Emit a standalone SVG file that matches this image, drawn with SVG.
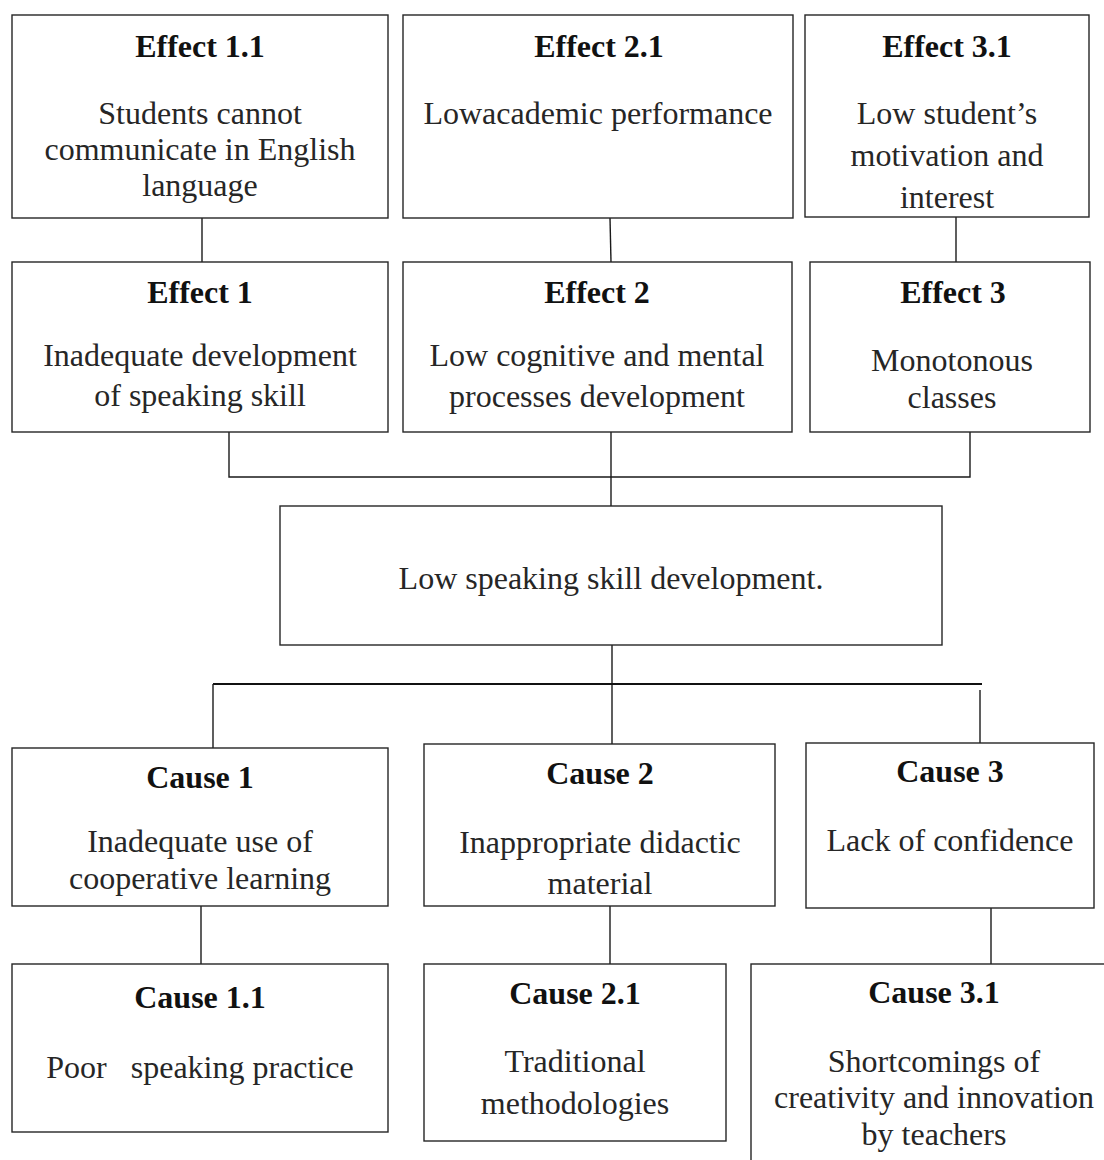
<svg xmlns="http://www.w3.org/2000/svg" width="1104" height="1160" viewBox="0 0 1104 1160">
<style>
  .box { fill: #ffffff; stroke: #262626; stroke-width: 1.4; }
  .ln { stroke: #1a1a1a; stroke-width: 1.4; fill: none; }
  .thick { stroke: #111; stroke-width: 2.2; fill: none; }
  text { font-family: "Liberation Serif", "Times New Roman", serif; font-size: 32px; fill: #111; text-anchor: middle; }
  .t { font-weight: bold; }
  .b { fill: #262626; }
</style>
<rect x="0" y="0" width="1104" height="1160" fill="#ffffff"/>
<g id="connectors">
  <line class="ln" x1="202" y1="218" x2="202" y2="262"/>
  <line class="ln" x1="610" y1="218" x2="611" y2="262"/>
  <line class="ln" x1="956" y1="217" x2="956" y2="262"/>
  <polyline class="ln" points="229,432 229,477 970,477 970,432"/>
  <line class="ln" x1="611" y1="432" x2="611" y2="506"/>
  <line class="ln" x1="612" y1="645" x2="612" y2="744"/>
  <line class="thick" x1="213" y1="684" x2="982" y2="684"/>
  <line class="ln" x1="213" y1="684" x2="213" y2="748"/>
  <line class="ln" x1="980" y1="690" x2="980" y2="747"/>
  <line class="ln" x1="201" y1="906" x2="201" y2="964"/>
  <line class="ln" x1="610" y1="906" x2="610" y2="964"/>
  <line class="ln" x1="991" y1="908" x2="991" y2="964"/>
</g>
<g id="effect11">
  <rect class="box" x="12" y="15" width="376" height="203"/>
  <text class="t" x="200" y="57">Effect 1.1</text>
  <text class="b" x="200" y="124">Students cannot</text>
  <text class="b" x="200" y="160">communicate in English</text>
  <text class="b" x="200" y="196">language</text>
</g>
<g id="effect21">
  <rect class="box" x="403" y="15" width="390" height="203"/>
  <text class="t" x="599" y="57">Effect 2.1</text>
  <text class="b" x="598" y="124">Lowacademic performance</text>
</g>
<g id="effect31">
  <rect class="box" x="805" y="15" width="284" height="202"/>
  <text class="t" x="947" y="57">Effect 3.1</text>
  <text class="b" x="947" y="124">Low student’s</text>
  <text class="b" x="947" y="166">motivation and</text>
  <text class="b" x="947" y="208">interest</text>
</g>
<g id="effect1">
  <rect class="box" x="12" y="262" width="376" height="170"/>
  <text class="t" x="200" y="303">Effect 1</text>
  <text class="b" x="200" y="366">Inadequate development</text>
  <text class="b" x="200" y="406">of speaking skill</text>
</g>
<g id="effect2">
  <rect class="box" x="403" y="262" width="389" height="170"/>
  <text class="t" x="597" y="303">Effect 2</text>
  <text class="b" x="597" y="366">Low cognitive and mental</text>
  <text class="b" x="597" y="407">processes development</text>
</g>
<g id="effect3">
  <rect class="box" x="810" y="262" width="280" height="170"/>
  <text class="t" x="953" y="303">Effect 3</text>
  <text class="b" x="952" y="371">Monotonous</text>
  <text class="b" x="952" y="408">classes</text>
</g>
<g id="problem">
  <rect class="box" x="280" y="506" width="662" height="139"/>
  <text class="b" x="611" y="589">Low speaking skill development.</text>
</g>
<g id="cause1">
  <rect class="box" x="12" y="748" width="376" height="158"/>
  <text class="t" x="200" y="788">Cause 1</text>
  <text class="b" x="200" y="852">Inadequate use of</text>
  <text class="b" x="200" y="889">cooperative learning</text>
</g>
<g id="cause2">
  <rect class="box" x="424" y="744" width="351" height="162"/>
  <text class="t" x="600" y="784">Cause 2</text>
  <text class="b" x="600" y="853">Inappropriate didactic</text>
  <text class="b" x="600" y="894">material</text>
</g>
<g id="cause3">
  <rect class="box" x="806" y="743" width="288" height="165"/>
  <text class="t" x="950" y="782">Cause 3</text>
  <text class="b" x="950" y="851">Lack of confidence</text>
</g>
<g id="cause11">
  <rect class="box" x="12" y="964" width="376" height="168"/>
  <text class="t" x="200" y="1008">Cause 1.1</text>
  <text class="b" x="200" y="1078" xml:space="preserve">Poor   speaking practice</text>
</g>
<g id="cause21">
  <rect class="box" x="424" y="964" width="302" height="177"/>
  <text class="t" x="575" y="1004">Cause 2.1</text>
  <text class="b" x="575" y="1072">Traditional</text>
  <text class="b" x="575" y="1114">methodologies</text>
</g>
<g id="cause31">
  <rect class="box" x="751" y="964" width="380" height="230"/>
  <text class="t" x="934" y="1003">Cause 3.1</text>
  <text class="b" x="934" y="1072">Shortcomings of</text>
  <text class="b" x="934" y="1108">creativity and innovation</text>
  <text class="b" x="934" y="1145">by teachers</text>
</g>
</svg>
